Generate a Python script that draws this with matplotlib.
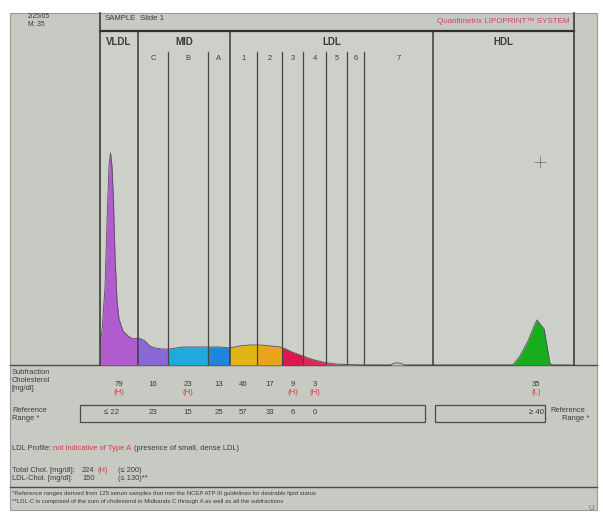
import numpy as np
import matplotlib
matplotlib.use("Agg")
import matplotlib.pyplot as plt
import matplotlib.transforms as mtransforms
from matplotlib.patches import Rectangle

plt.rcParams['font.family'] = ['Liberation Sans', 'DejaVu Sans']

# ---------------- data ----------------
# relative mobility (0 = start of VLDL, 100 = end of HDL window)
mobility = [0.0, 0.42, 1.05, 1.48, 1.90, 2.22, 2.53, 2.85, 3.16, 3.59, 4.01, 4.85,
            5.91, 6.96, 8.02, 8.65, 9.49, 10.5, 11.6, 13.1, 14.6, 16.0, 17.5, 20.0,
            22.8, 25.3, 27.4, 29.5, 31.6, 33.8, 35.9, 38.0, 39.2, 40.5, 42.2, 43.9,
            45.6, 47.5, 49.6, 52.7, 55.9, 61.2, 62.2, 63.3, 64.3, 84.4, 87.1, 88.6,
            90.3, 91.6, 92.2, 92.8, 93.7, 94.3, 94.9, 95.4, 100.0]
intensity = [6.3, 10.2, 23.1, 43.1, 59.6, 63.5, 59.6, 49.1, 33.2, 19.2, 13.8, 10.2,
             8.7, 7.8, 8.1, 7.8, 7.2, 5.7, 5.1, 4.8, 4.8, 5.1, 5.4, 5.4,
             5.4, 5.4, 5.1, 5.7, 6.0, 6.0, 5.7, 5.4, 4.8, 3.9, 3.0, 2.1,
             1.35, 0.75, 0.3, 0.15, 0.0, 0.0, 0.6, 0.6, 0.0, 0.0, 0.0, 2.7,
             7.2, 11.7, 13.5, 12.3, 10.8, 5.7, 0.6, 0.0, 0.0]

boundaries = [0.0, 8.0, 14.3, 22.8, 27.4, 33.1, 38.4, 42.8, 47.7, 52.1, 55.7, 70.3, 100.0]
fraction_labels = ["", "C", "B", "A", "1", "2", "3", "4", "5", "6", "7", ""]
fraction_colors = ["#b05ccf", "#8a66d6", "#1fa9dc", "#1f86dc", "#e2b414", "#e9a41a",
                   "#e0144e", "#e0285a", "#dc4a70", "#c8a0a8", "#c4c6c0", "#18ad1c"]
group_labels = ["VLDL", "MID", "LDL", "HDL"]
group_bounds = [(0, 1), (1, 4), (4, 11), (11, 12)]

chol_values = ["79", "16", "23", "13", "46", "17", "9", "3"]
chol_flags = ["(H)", "", "(H)", "", "", "", "(H)", "(H)"]
ref_values = ["\u2264 22", "23", "15", "25", "57", "33", "6", "0"]
hdl_value, hdl_flag, hdl_ref = "35", "(L)", "\u2265 40"
hdl_label_pos = 92.0
crosshair = (92.8, 60.8)

# ---------------- figure ----------------
W, H = 603, 519
fig = plt.figure(figsize=(W / 100, H / 100), dpi=100)
fig.patch.set_facecolor("white")
bg = fig.add_axes([0, 0, 1, 1])
bg.set_xlim(0, W)
bg.set_ylim(H, 0)
bg.axis("off")

panel = "#c7cac3"
ink = "#3a3c38"
red = "#d43a40"
fs = 5.4
bg.add_patch(Rectangle((10, 13), 587, 497, facecolor=panel, edgecolor="#9a9d96", lw=0.8))
bg.add_patch(Rectangle((100, 31), 474, 334, facecolor="#cdd0c9", edgecolor="none"))

# header
bg.plot([100, 574], [31, 31], color="#2e302c", lw=1.6)
bg.text(28, 17, "2/25/05", fontsize=4.8, color=ink, va="center")
bg.text(28, 25, "M: 35", fontsize=4.8, color=ink, va="center")
bg.text(105, 19, "SAMPLE", fontsize=5.6, color=ink, va="center")
bg.text(140, 19, "Slide 1", fontsize=5.6, color=ink, va="center")
bg.text(570, 21, "Quantimetrix LIPOPRINT\u2122 SYSTEM", fontsize=5.8, color="#d03c82",
        va="center", ha="right")

# bottom section lines
bg.plot([10, 597], [365, 365], color="#4a4c48", lw=1.0)
bg.plot([10, 597], [487, 487], color="#4a4c48", lw=1.0)
bg.add_patch(Rectangle((80, 405), 345, 17, facecolor="none", edgecolor="#4a4c48", lw=0.9))
bg.add_patch(Rectangle((435, 405), 110, 17, facecolor="none", edgecolor="#4a4c48", lw=0.9))

for yy, t in zip([373, 381, 389], ["Subfraction", "Cholesterol", "[mg/dl]"]):
    bg.text(12, yy, t, fontsize=fs, color=ink, va="center")
bg.text(12, 410, "Reference", fontsize=fs, color=ink, va="center")
bg.text(12, 418, "Range *", fontsize=fs, color=ink, va="center")
bg.text(550, 410, "Reference", fontsize=fs, color=ink, va="center")
bg.text(562, 418, "Range *", fontsize=fs, color=ink, va="center")

t1 = bg.text(12, 449, "LDL Profile: ", fontsize=fs, color=ink, va="center")
fig.canvas.draw()
r = fig.canvas.get_renderer()
def right_of(txt):
    bb = txt.get_window_extent(r)
    return bg.transData.inverted().transform((bb.x1, bb.y0))[0]
t2 = bg.text(right_of(t1), 449, "not indicative of Type A", fontsize=fs, color=red, va="center")
bg.text(right_of(t2) + 3, 449, "(presence of small, dense LDL)", fontsize=fs, color=ink, va="center")

bg.text(12, 470, "Total Chol. [mg/dl]:", fontsize=fs, color=ink, va="center")
bg.text(82, 470, "224", fontsize=fs, color=ink, va="center")
bg.text(97, 470, "(H)", fontsize=fs, color=red, va="center")
bg.text(118, 470, "(\u2264 200)", fontsize=fs, color=ink, va="center")
bg.text(12, 479, "LDL-Chol. [mg/dl]:", fontsize=fs, color=ink, va="center")
bg.text(82, 479, "150", fontsize=fs, color=ink, va="center")
bg.text(118, 479, "(\u2264 130)**", fontsize=fs, color=ink, va="center")

bg.text(12, 494, "*Reference ranges derived from 125 serum samples that met the NCEP ATP III "
        "guidelines for desirable lipid status", fontsize=4.3, color=ink, va="center")
bg.text(12, 502, "**LDL-C is comprised of the sum of cholesterol in Midbands C through A as well "
        "as all the subfractions", fontsize=4.3, color=ink, va="center")
bg.text(588, 509, "U", fontsize=5.5, color="#6a6c68", va="center")

# ---------------- chart ----------------
ax = fig.add_axes([100 / W, 1 - 365 / H, 474 / W, 334 / H])
ax.set_xlim(0, 100)
ax.set_ylim(0, 100)
ax.axis("off")
ax.patch.set_alpha(0)

mob = np.array(mobility)
inten = np.array(intensity)
for i in range(len(boundaries) - 1):
    b0, b1 = boundaries[i], boundaries[i + 1]
    xs = np.concatenate([[b0], mob[(mob > b0) & (mob < b1)], [b1]])
    ys = np.interp(xs, mob, inten)
    ax.fill_between(xs, 0, ys, color=fraction_colors[i], lw=0, zorder=2)
ax.plot(mob, inten, color="#5a4a60", lw=0.6, zorder=3)

major = {0, 1, 4, 11, 12}
for j, b in enumerate(boundaries):
    if j in (0, len(boundaries) - 1):
        ax.axvline(b, ymin=0, ymax=1 + 18 / 334, color="#3a3c38", lw=1.2, clip_on=False, zorder=4)
    elif j in major:
        ax.axvline(b, ymin=0, ymax=1.0, color="#3a3c38", lw=1.1, zorder=4)
    else:
        ax.axvline(b, ymin=0, ymax=(365 - 52) / 334, color="#454743", lw=0.9, zorder=4)

for lab, (a, b) in zip(group_labels, group_bounds):
    xm = (boundaries[a] + boundaries[b]) / 2
    ax.text(xm, (365 - 42) / 334, lab, transform=ax.get_xaxis_transform(), ha="center",
            va="center", fontsize=7, fontweight="bold", color=ink)
for i, lab in enumerate(fraction_labels):
    if lab:
        xm = (boundaries[i] + boundaries[i + 1]) / 2
        ax.text(xm, (365 - 59) / 334, lab, transform=ax.get_xaxis_transform(), ha="center",
                va="center", fontsize=5.4, color=ink)

ax.plot(*crosshair, marker="+", ms=9, mew=0.6, color="#7a7c78", zorder=5)

# values below chart: x from data, y from page layout
blend = mtransforms.blended_transform_factory(ax.transData, bg.transData)
vfs = 5.6
for i in range(len(chol_values)):
    xm = (boundaries[i] + boundaries[i + 1]) / 2
    ax.text(xm, 384, chol_values[i], transform=blend, ha="center", va="center",
            fontsize=vfs, color=ink)
    if chol_flags[i]:
        ax.text(xm, 393, chol_flags[i], transform=blend, ha="center", va="center",
                fontsize=vfs, color=red)
    ax.text(xm if i else xm - 1.5, 413, ref_values[i], transform=blend, ha="center",
            va="center", fontsize=vfs, color=ink)
ax.text(hdl_label_pos, 384, hdl_value, transform=blend, ha="center", va="center",
        fontsize=vfs, color=ink)
ax.text(hdl_label_pos, 393, hdl_flag, transform=blend, ha="center", va="center",
        fontsize=vfs, color=red)
ax.text(hdl_label_pos, 413, hdl_ref, transform=blend, ha="center", va="center",
        fontsize=vfs, color=ink)

fig.savefig("out.png", dpi=100)
